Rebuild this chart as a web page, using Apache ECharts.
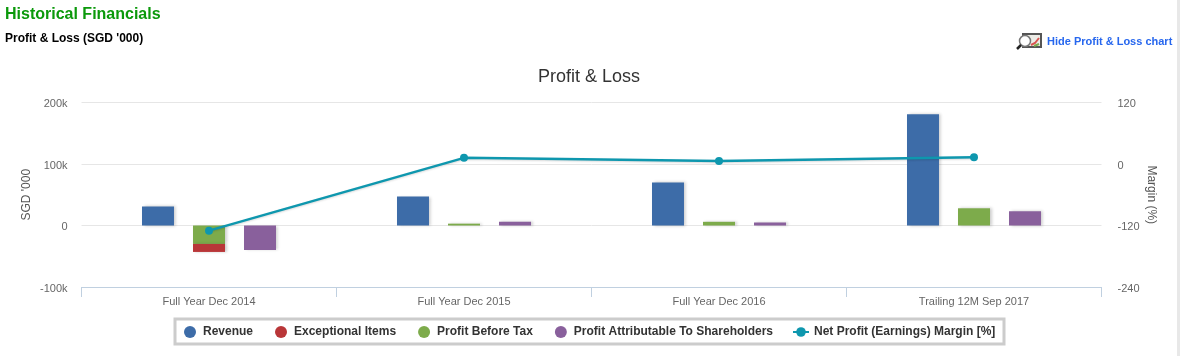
<!DOCTYPE html>
<html>
<head>
<meta charset="utf-8">
<style>
  html, body { margin: 0; padding: 0; background: #fff; }
  #main { width: 1180px; height: 356px; }
</style>
<script src="https://cdn.jsdelivr.net/npm/echarts@6/dist/echarts.min.js"></script>
</head>
<body>
<div id="main"></div>
<script>
  const categories = ['Full Year Dec 2014', 'Full Year Dec 2015', 'Full Year Dec 2016', 'Trailing 12M Sep 2017'];
  const revenue = [31000, 47000, 70000, 181000];
  const exceptionalItems = [-13000, 0, 0, 0];
  const profitBeforeTax = [-30000, 3000, 6000, 28000];
  const profitAttributable = [-40000, 6000, 5000, 23000];
  const netMargin = [-130, 12, 6, 13];
  const leftTicks = { min: -100000, max: 200000, interval: 100000 };
  const rightTicks = { min: -240, max: 120, interval: 120 };

  const font = '"Liberation Sans", Arial, sans-serif';
  const blue = '#3d6ca8', red = '#b93638', green = '#7dab4b', purple = '#89609c', teal = '#0e97ae';

  function barSeries(name, data, stack, color) {
    return {
      name: name,
      type: 'bar',
      stack: stack,
      data: data,
      barWidth: 32,
      barGap: '59.4%',
      z: 2,
      itemStyle: {
        color: color,
        shadowColor: 'rgba(0,0,0,0.2)',
        shadowBlur: 3,
        shadowOffsetX: 2,
        shadowOffsetY: 0
      }
    };
  }

  const legendText = { fontSize: 12, fontWeight: 'bold', color: '#333', fontFamily: font };

  const myChart = echarts.init(document.getElementById('main'));
  myChart.setOption({
    animation: false,
    textStyle: { fontFamily: font },
    title: [
      { text: 'Historical Financials', left: 5, top: 7, textStyle: { fontSize: 16, fontWeight: 'bold', color: '#0b990b' }, padding: 0 },
      { text: "Profit & Loss (SGD '000)", left: 5, top: 33, textStyle: { fontSize: 12, fontWeight: 'bold', color: '#000' }, padding: 0 },
      { text: 'Hide Profit & Loss chart', left: 1047, top: 36, textStyle: { fontSize: 11, fontWeight: 'bold', color: '#2767ee' }, padding: 0 },
      { text: 'Profit & Loss', left: 589, textAlign: 'center', top: 68, textStyle: { fontSize: 18, fontWeight: 'normal', color: '#333' }, padding: 0 }
    ],
    graphic: [
      // picture icon next to the link
      { type: 'rect', shape: { x: 1023, y: 34, width: 18, height: 13 }, style: { fill: '#ecece6', stroke: '#555', lineWidth: 2 } },
      { type: 'polyline', shape: { points: [[1031, 45], [1035, 43], [1039, 38]] }, style: { stroke: '#d9534f', lineWidth: 2, fill: 'none' } },
      { type: 'line', shape: { x1: 1034, y1: 46, x2: 1039, y2: 44 }, style: { stroke: '#7dab4b', lineWidth: 2 } },
      { type: 'circle', shape: { cx: 1025, cy: 41, r: 5.5 }, style: { fill: '#fff', stroke: '#777', lineWidth: 1.5 } },
      { type: 'line', shape: { x1: 1021, y1: 45, x2: 1017, y2: 49 }, style: { stroke: '#222', lineWidth: 2.5 } },
      // grey edge of the page on the right
      { type: 'rect', shape: { x: 1177, y: 0, width: 3, height: 356 }, style: { fill: '#e8e8e8' } },
      // legend frame
      { type: 'rect', shape: { x: 175, y: 319, width: 829, height: 25 }, style: { fill: 'none', stroke: '#cccccc', lineWidth: 3 } }
    ],
    legend: [
      {
        left: 184,
        top: 326,
        padding: 0,
        itemWidth: 16,
        itemHeight: 12,
        itemGap: 22,
        textStyle: legendText,
        data: [
          { name: 'Revenue', icon: 'circle' },
          { name: 'Exceptional Items', icon: 'circle' },
          { name: 'Profit Before Tax', icon: 'circle' },
          { name: 'Profit Attributable To Shareholders', icon: 'circle' }
        ]
      },
      {
        left: 792,
        top: 326,
        padding: 0,
        itemWidth: 16,
        itemHeight: 12,
        textStyle: legendText,
        data: ['Net Profit (Earnings) Margin [%]']
      }
    ],
    grid: { left: 81.5, width: 1020, top: 102.5, height: 184.5 },
    xAxis: {
      type: 'category',
      data: categories,
      axisLine: { onZero: false, lineStyle: { color: '#c0d0e0', width: 1 } },
      axisTick: { show: true, length: 10, lineStyle: { color: '#c0d0e0' } },
      axisLabel: { color: '#666', fontSize: 11, margin: 9, interval: 0 }
    },
    yAxis: [
      {
        type: 'value',
        min: leftTicks.min,
        max: leftTicks.max,
        interval: leftTicks.interval,
        name: "SGD '000",
        nameLocation: 'middle',
        nameMoveOverlap: false,
        nameGap: 49,
        nameRotate: 90,
        nameTextStyle: { color: '#555', fontSize: 12 },
        axisLine: { show: false },
        axisTick: { show: false },
        splitLine: { lineStyle: { color: '#e6e6e6' } },
        axisLabel: {
          color: '#666',
          fontSize: 11,
          margin: 14,
          verticalAlign: 'top',
          lineHeight: 3,
          formatter: function (v) { return v === 0 ? '0' : (v / 1000) + 'k'; }
        }
      },
      {
        type: 'value',
        position: 'right',
        min: rightTicks.min,
        max: rightTicks.max,
        interval: rightTicks.interval,
        name: 'Margin (%)',
        nameLocation: 'middle',
        nameMoveOverlap: false,
        nameGap: 44,
        nameRotate: -90,
        nameTextStyle: { color: '#555', fontSize: 12 },
        axisLine: { show: false },
        axisTick: { show: false },
        splitLine: { show: false },
        axisLabel: { color: '#666', fontSize: 11, margin: 16, verticalAlign: 'top', lineHeight: 3 }
      }
    ],
    series: [
      barSeries('Revenue', revenue, 'a', blue),
      barSeries('Profit Before Tax', profitBeforeTax, 'b', green),
      barSeries('Exceptional Items', exceptionalItems, 'b', red),
      barSeries('Profit Attributable To Shareholders', profitAttributable, 'c', purple),
      {
        name: 'Net Profit (Earnings) Margin [%]',
        type: 'line',
        yAxisIndex: 1,
        data: netMargin,
        symbol: 'circle',
        symbolSize: 8,
        z: 5,
        lineStyle: { color: teal, width: 2.5, shadowColor: 'rgba(0,0,0,0.15)', shadowBlur: 2, shadowOffsetY: 1 },
        itemStyle: { color: teal }
      }
    ]
  });
</script>
</body>
</html>
